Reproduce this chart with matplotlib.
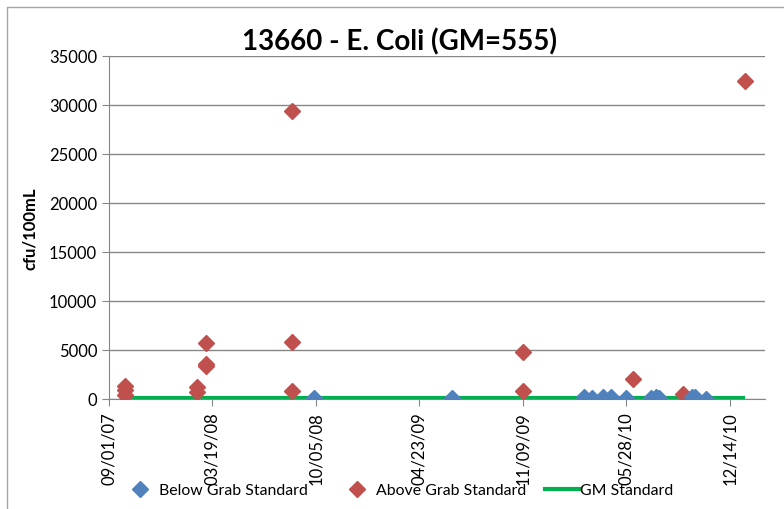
import matplotlib
matplotlib.use("Agg")
import matplotlib.pyplot as plt
from matplotlib.patches import Rectangle
from matplotlib.lines import Line2D
import pandas as pd

plt.rcParams['font.family'] = ['Lato', 'DejaVu Sans']

title = "13660 - E. Coli (GM=555)"
ylabel = "cfu/100mL"

below_dates = ["2008-10-02", "2009-06-25", "2010-03-08", "2010-03-23", "2010-04-13",
               "2010-04-28", "2010-05-27", "2010-07-14", "2010-07-24", "2010-07-30",
               "2010-10-01", "2010-10-07", "2010-10-29"]
below_vals = [120, 110, 160, 130, 200, 170, 110, 140, 190, 150, 170, 160, 40]

above_dates = ["2007-10-02", "2007-10-02", "2007-10-02", "2008-02-18", "2008-02-18",
               "2008-03-07", "2008-03-07", "2008-03-07", "2008-08-19", "2008-08-19",
               "2008-08-19", "2009-11-09", "2009-11-09", "2010-06-09", "2010-09-15",
               "2011-01-12"]
above_vals = [1350, 900, 400, 1200, 700, 5700, 3600, 3400, 29400, 5800, 850,
              4830, 790, 2040, 560, 32400]

gm_dates = ["2007-10-02", "2011-01-12"]
gm_vals = [126, 126]

xtick_labels = ["09/01/07", "03/19/08", "10/05/08", "04/23/09", "11/09/09", "05/28/10", "12/14/10"]
yticks = [0, 5000, 10000, 15000, 20000, 25000, 30000, 35000]

blue = "#4F81BD"
red = "#C0504D"
green = "#00B050"
grid = "#868686"

fig = plt.figure(figsize=(7.84, 5.10), dpi=100)
fig.patches.append(Rectangle((7/784, -0.1), 1.2, 1 - 8/510 + 0.1, transform=fig.transFigure,
                             fill=False, edgecolor="#A6A6A6", linewidth=1.0))
ax = fig.add_axes([109/784, 1 - 400/510, (765 - 109)/784, (400 - 57)/510])

bd = pd.to_datetime(below_dates)
ad = pd.to_datetime(above_dates)
gd = pd.to_datetime(gm_dates)

ms = 8
ax.plot(gd, gm_vals, color=green, linewidth=3, zorder=2, solid_capstyle='butt')
ax.plot(ad, above_vals, linestyle='none', marker='D', markersize=ms, color=red, zorder=3)
ax.plot(bd, below_vals, linestyle='none', marker='D', markersize=ms, color=blue, zorder=3)

xt = pd.to_datetime(xtick_labels, format="%m/%d/%y")
ax.set_xticks(xt)
ax.set_xticklabels(xtick_labels, rotation=90, fontsize=12)
ax.set_xlim(xt[0], xt[0] + pd.Timedelta(days=1268))
ax.set_ylim(0, 35000)
ax.set_yticks(yticks)
ax.set_yticklabels([str(v) for v in yticks], fontsize=12)
ax.yaxis.grid(True, color=grid, linewidth=1)
ax.set_axisbelow(True)
for s in ["top", "right"]:
    ax.spines[s].set_visible(False)
for s in ["left", "bottom"]:
    ax.spines[s].set_color(grid)
ax.tick_params(axis='both', colors=grid, labelcolor='black', length=5)
ax.set_ylabel(ylabel, fontsize=12, fontweight='bold', labelpad=8)
fig.text(400/784, 1 - 42/510, title, fontsize=20, fontweight='bold', ha='center', va='center')

fs = 11.4
ly = 1 - 491/510
entries = [
    (Line2D([], [], linestyle='none', marker='D', markersize=ms, color=blue), "Below Grab Standard", 130/784, 1.25, 0.6),
    (Line2D([], [], linestyle='none', marker='D', markersize=ms, color=red), "Above Grab Standard", 347/784, 1.25, 0.6),
    (Line2D([], [], color=green, linewidth=3), "GM Standard", 545/784, 2.2, 0.0),
]
for h, lab, x, hl, tp in entries:
    fig.legend([h], [lab], loc='center left', bbox_to_anchor=(x, ly), frameon=False,
               fontsize=fs, handlelength=hl, handletextpad=tp, borderpad=0, borderaxespad=0)

fig.savefig("out.png", dpi=100)
